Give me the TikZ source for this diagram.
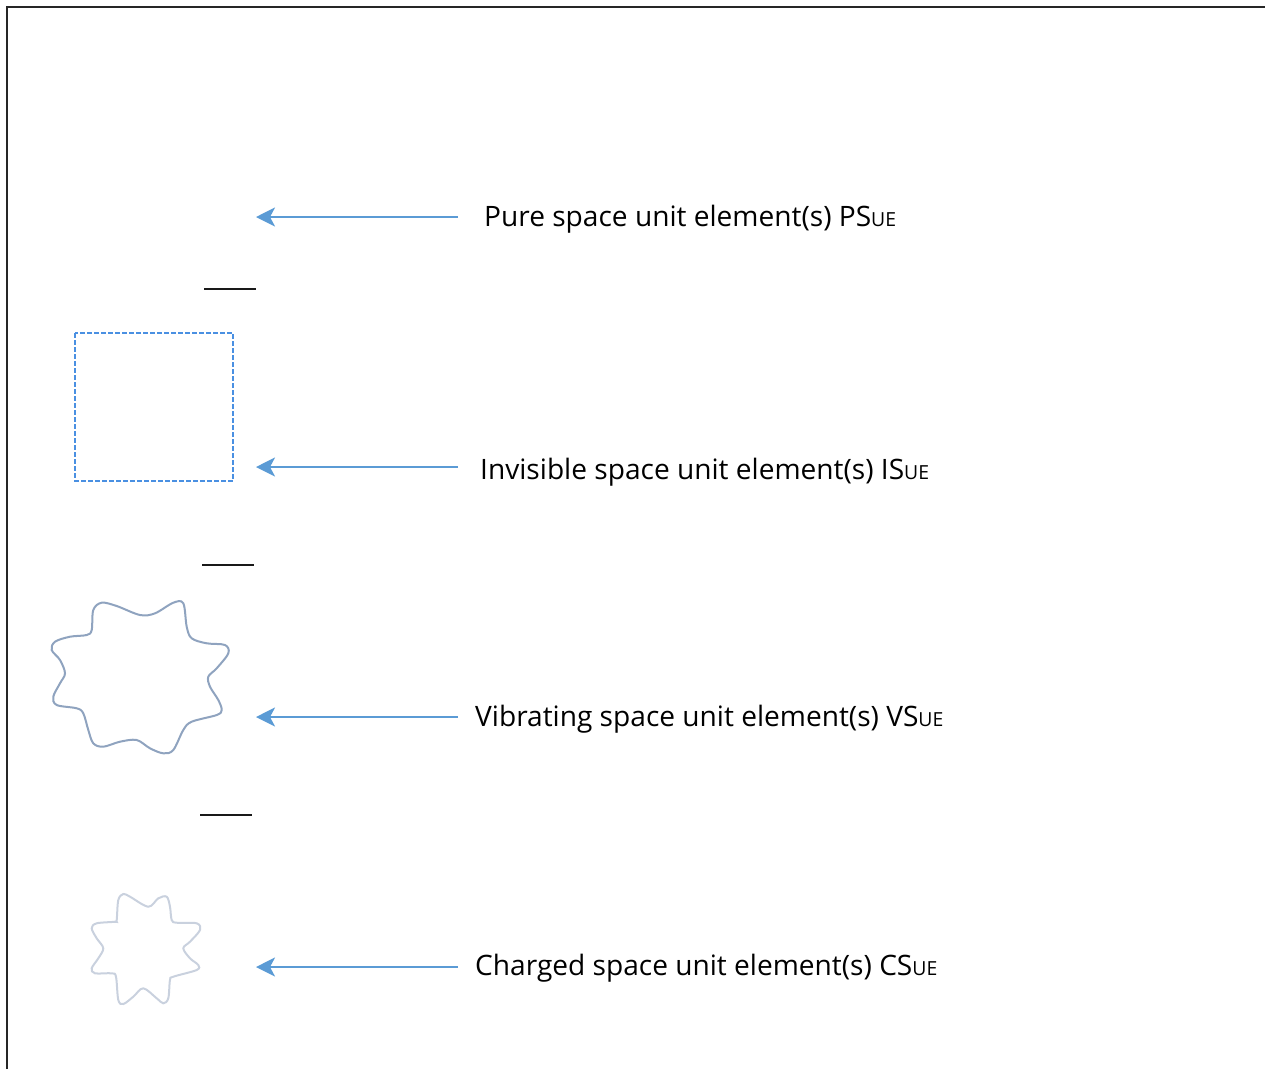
\documentclass[tikz,border=0pt]{standalone}
\usepackage{fontspec}
\setmainfont{Open Sans}
\usetikzlibrary{arrows.meta}
\definecolor{arrowblue}{HTML}{5B9BD5}
\definecolor{dashblue}{HTML}{4A90E2}
\definecolor{blobA}{HTML}{8FA3BF}
\definecolor{blobB}{HTML}{C9D1DE}
\newcommand{\ue}{{\fontsize{19.4}{22}\selectfont UE}}
\tikzset{
  pointer/.style={draw=arrowblue, line width=2.4pt, -{Stealth[length=19pt,width=19pt,inset=5pt]}},
  label/.style={anchor=base west, inner sep=0pt, font=\fontsize{28.1}{32}\selectfont},
  tick/.style={draw=black!90, line width=2.2pt},
  frameline/.style={draw=black!85, line width=2.4pt},
}
\begin{document}
\begin{tikzpicture}[x=1pt,y=-1pt]
\useasboundingbox (0,0) rectangle (1265,1069);
% frame (top and left)
\coordinate (fa) at (7,1069);
\coordinate (fb) at (7,7);
\coordinate (fc) at (1265,7);
\draw[frameline] (fa) -- (fb) -- (fc);

% labels
\node[label] (l1) at (484,226) {Pure space unit element(s) PS\ue};
\node[label] (l2) at (480,479) {Invisible space unit element(s) IS\ue};
\node[label] (l3) at (475,726) {Vibrating space unit element(s) VS\ue};
\node[label] (l4) at (475,975.5) {Charged space unit element(s) CS\ue};

% arrow coordinates
\coordinate (s1) at (458,217); \coordinate (t1) at (256,217);
\coordinate (s2) at (458,467); \coordinate (t2) at (256,467);
\coordinate (s3) at (458,717); \coordinate (t3) at (256,717);
\coordinate (s4) at (458,967); \coordinate (t4) at (256,967);
\draw[pointer] (s1) -- (t1);
\draw[pointer] (s2) -- (t2);
\draw[pointer] (s3) -- (t3);
\draw[pointer] (s4) -- (t4);

% short separators
\coordinate (a1) at (204,289); \coordinate (b1) at (256,289);
\coordinate (a2) at (202,565); \coordinate (b2) at (254,565);
\coordinate (a3) at (200,815); \coordinate (b3) at (252,815);
\draw[tick] (a1) -- (b1);
\draw[tick] (a2) -- (b2);
\draw[tick] (a3) -- (b3);

% dashed square
\draw[dashblue, line width=1.5pt, dash pattern=on 5pt off 2pt] (75,333) rectangle (233,481);

% vibrating blob
\draw[blobA, line width=2pt] plot[smooth cycle, tension=0.55] coordinates {
(91.7,630) (93.3,610) (101.7,602.7) (116.7,606) (140,615) (155,613.3) (173.3,602.7) (183.3,603.3)
(186.7,626.7) (191.7,638.3) (206.7,643.3) (225,645) (228.3,653.3) (216.7,668.3) (208.3,676.7)
(210,686.7) (218.3,700) (221.7,710) (216.7,715) (191.7,721.7) (183.3,730) (173.3,750) (163.3,753.3)
(150,748.3) (136.7,740) (120,741.7) (103.3,746.7) (93.3,743.3) (88.3,730) (83.3,713.3) (76.7,708.3)
(56.7,705) (53.3,696.7) (60,683.3) (65,673.3) (60,660) (51.7,650) (55,641.7) (70,636.7) (86.7,635)};

% charged blob
\draw[blobB, line width=2pt] plot[smooth cycle, tension=0.55] coordinates {
(116.7,920) (118.3,900) (123.3,894) (130,896.7) (148.3,906.7) (158.3,898.3) (166.7,896.7) (170,906.7)
(171.7,920) (176.7,922.7) (196.7,923.3) (200,930) (190,941.7) (183.3,948.3) (190,958.3) (198.3,965)
(196.7,970) (173.3,976.7) (170,980) (168.3,998.3) (163.3,1003.3) (156.7,998.3) (143.3,988.3)
(133.3,996.7) (123.3,1004) (118.3,1000) (116,976.7) (111.7,973.3) (95,973.3) (91.7,968.3)
(98.3,958.3) (103.3,948.3) (96.7,938.3) (91.7,928.3) (96.7,923.3) (115,921.7)};
\end{tikzpicture}
\end{document}
